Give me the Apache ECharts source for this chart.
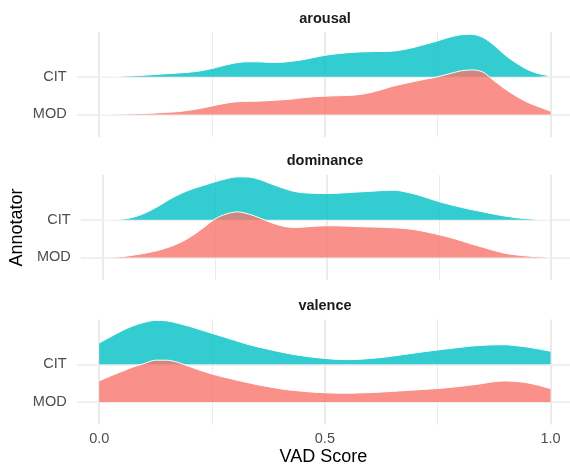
<!DOCTYPE html>
<html>
<head>
<meta charset="utf-8">
<script src="https://cdn.jsdelivr.net/npm/echarts@6/dist/echarts.min.js"></script>
<style>
html,body{margin:0;padding:0;background:#fff;}
#chart{width:570px;height:469px;}
</style>
</head>
<body>
<div id="chart"></div>
<script>
// ---- data ----
const panels = ['arousal', 'dominance', 'valence'];
const annotators = ['MOD', 'CIT'];           // y position 1 = MOD, 2 = CIT
const vadX = [0, 0.025, 0.05, 0.075, 0.1, 0.125, 0.15, 0.175, 0.2, 0.225,
              0.25, 0.275, 0.3, 0.325, 0.35, 0.375, 0.4, 0.425, 0.45, 0.475,
              0.5, 0.525, 0.55, 0.575, 0.6, 0.625, 0.65, 0.675, 0.7, 0.725,
              0.75, 0.775, 0.8, 0.825, 0.85, 0.875, 0.9, 0.925, 0.95, 0.975, 1];
const xTickValues = [0, 0.5, 1];
const xMinorValues = [0.25, 0.75];

// ridge heights (relative density, scaled into row units by ridgeScale)
const arousalCIT = [0, 0.2, 0.5, 1.0, 1.6, 2.4, 3.1, 3.8, 4.6, 6.0,
                    8.3, 11.2, 13.7, 15.0, 15.0, 14.5, 14.4, 15.5, 17.0, 19.3,
                    21.5, 23.0, 24.1, 24.8, 25.2, 25.4, 25.7, 27.3, 29.8, 32.8,
                    36.0, 39.5, 42.0, 42.5, 39.5, 31.5, 21.5, 13.5, 7.0, 3.0, 1.0];
const arousalMOD = [0, 0.1, 0.3, 0.6, 1.0, 1.5, 2.1, 2.8, 4.3, 6.1,
                    8.5, 10.8, 12.5, 13.1, 13.3, 13.8, 14.5, 15.3, 16.6, 17.7,
                    18.3, 18.7, 19.0, 19.8, 21.8, 24.7, 28.2, 30.8, 33.2, 35.5,
                    37.7, 40.6, 43.5, 44.6, 42.5, 33.7, 25.2, 18.0, 12.0, 7.5, 3.3];
const dominanceCIT = [0, 0.2, 1.0, 3.5, 8.0, 14.0, 20.8, 26.5, 31.0, 34.5,
                      38.0, 41.0, 43.0, 42.8, 40.3, 36.0, 32.0, 28.6, 27.0, 26.5,
                      26.3, 26.6, 27.3, 28.0, 28.6, 29.3, 29.6, 28.0, 25.3, 21.8,
                      18.2, 15.2, 12.5, 10.0, 7.8, 5.5, 3.6, 2.0, 1.0, 0.3, 0];
const dominanceMOD = [0, 0.3, 1.2, 2.8, 4.8, 7.3, 10.8, 15.5, 22.0, 30.0,
                      38.5, 43.5, 45.6, 43.5, 39.5, 35.0, 31.5, 30.0, 30.5, 31.3,
                      31.7, 31.6, 31.2, 30.8, 30.5, 30.2, 29.7, 29.0, 27.5, 25.3,
                      22.8, 20.0, 16.7, 13.2, 10.0, 6.8, 4.0, 2.4, 1.3, 0.6, 0.3];
const valenceCIT = [21.3, 27.5, 33.5, 38.5, 42.0, 44.0, 43.5, 41.0, 38.0, 34.5,
                    31.0, 27.5, 24.0, 20.5, 17.6, 15.0, 12.5, 10.3, 8.5, 7.0,
                    5.9, 5.0, 4.7, 5.0, 5.8, 6.8, 8.2, 9.8, 11.4, 12.9,
                    14.3, 15.7, 17.0, 18.3, 19.0, 19.5, 19.6, 18.5, 17.2, 15.2, 13.0];
const valenceMOD = [21.0, 26.0, 30.5, 35.0, 38.5, 41.8, 41.8, 39.5, 35.5, 31.5,
                    28.0, 25.0, 22.3, 19.8, 17.3, 15.2, 13.3, 11.8, 10.7, 9.8,
                    9.2, 8.8, 8.7, 9.0, 9.4, 9.9, 10.6, 11.3, 12.0, 12.7,
                    13.4, 14.4, 15.6, 17.0, 18.5, 20.3, 21.0, 20.5, 19.0, 16.5, 13.3];

const ridgeData = {
  arousal: { CIT: arousalCIT, MOD: arousalMOD },
  dominance: { CIT: dominanceCIT, MOD: dominanceMOD },
  valence: { CIT: valenceCIT, MOD: valenceMOD }
};

// ---- layout / style ----
const ridgeScale = 1 / 37.7;   // relative density -> annotator-row units
const gridTops = [32, 175, 319.5];
const gridH = 105;
const gridLeft = 76.7;
const xMin = -0.0499, xMax = 1.0432;
const titleTops = [11.4, 153.8, 298.4];
const colors = { CIT: '#00BFC4', MOD: '#F8766D' };
const gridColor = '#EBEBEB';
const FONT = 'Liberation Sans, Arial, Helvetica, sans-serif';

const grids = [], xAxes = [], yAxes = [], series = [], titles = [];

panels.forEach((p, i) => {
  grids.push({ left: gridLeft, right: 0, top: gridTops[i], height: gridH, containLabel: false });
  const last = i === panels.length - 1;
  // major x axis
  xAxes.push({
    type: 'value', gridIndex: i, min: xMin, max: xMax,
    axisLine: { show: false },
    axisTick: { show: false, customValues: xTickValues },
    axisLabel: {
      show: last, customValues: xTickValues, margin: 7,
      fontSize: 14.5, color: '#4D4D4D', fontFamily: FONT,
      formatter: v => Number(v).toFixed(1)
    },
    splitLine: { show: true, lineStyle: { color: gridColor, width: 2 } },
    name: last ? 'VAD Score' : '',
    nameLocation: 'middle', nameGap: 24,
    nameTextStyle: { fontSize: 18, color: '#000', fontFamily: FONT }
  });
  // minor x axis
  xAxes.push({
    type: 'value', gridIndex: i, min: xMin, max: xMax, show: true,
    axisLine: { show: false },
    axisTick: { show: false, customValues: xMinorValues },
    axisLabel: { show: false, customValues: xMinorValues },
    splitLine: { show: true, lineStyle: { color: gridColor, width: 1 } }
  });
  yAxes.push({
    type: 'value', gridIndex: i, min: 0.4, max: 3.19,
    axisLine: { show: false },
    axisTick: { show: false, customValues: [1, 2] },
    axisLabel: {
      customValues: [1, 2], margin: 10,
      fontSize: 14.5, color: '#4D4D4D', fontFamily: FONT,
      formatter: v => annotators[Math.round(v) - 1]
    },
    splitLine: { show: true, lineStyle: { color: gridColor, width: 1.6 } },
    name: i === 1 ? 'Annotator' : '',
    nameLocation: 'middle', nameGap: 50, nameRotate: 90,
    nameTextStyle: { fontSize: 18, color: '#000', fontFamily: FONT }
  });
  titles.push({
    text: p, left: 325, top: titleTops[i], textAlign: 'center', padding: 0,
    textStyle: { fontSize: 14.5, fontWeight: 'bold', color: '#1A1A1A', fontFamily: FONT }
  });
  // CIT first (behind), MOD on top
  ['CIT', 'MOD'].forEach(a => {
    const base = annotators.indexOf(a) + 1;
    const h = ridgeData[p][a];
    series.push({
      name: p + ' ' + a, type: 'line',
      xAxisIndex: i * 2, yAxisIndex: i,
      data: vadX.map((x, k) => [x, base + h[k] * ridgeScale]),
      smooth: 0.3,
      showSymbol: false, symbol: 'none',
      lineStyle: { color: '#FFFFFF', width: 1 },
      areaStyle: { color: colors[a], opacity: 0.8, origin: base },
      silent: true
    });
  });
});

const chart = echarts.init(document.getElementById('chart'), null, { renderer: 'canvas' });
chart.setOption({
  animation: false,
  backgroundColor: '#FFFFFF',
  textStyle: { fontFamily: FONT },
  title: titles,
  grid: grids,
  xAxis: xAxes,
  yAxis: yAxes,
  series: series
});
</script>
</body>
</html>
